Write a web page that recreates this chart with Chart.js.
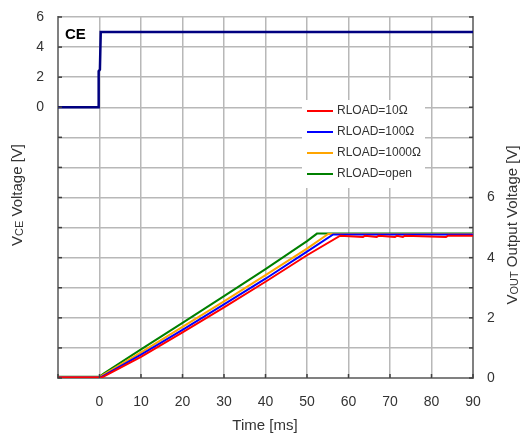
<!DOCTYPE html>
<html>
<head>
<meta charset="utf-8">
<script src="https://cdn.jsdelivr.net/npm/chart.js@4.4.0/dist/chart.umd.min.js"></script>
<style>
  html, body { margin: 0; padding: 0; background: #fff; }
</style>
</head>
<body>
<canvas id="myChart" width="523" height="438"></canvas>
<script>
// Vce signal (left axis)
const vceTime = [-10, -0.2, -0.2, 0.1, 0.3, 90];
const vceVolt = [0, 0, 2.4, 2.5, 5.0, 5.0];

// Vout signals (right axis), one array pair per load
const r10Time   = [-10, 0.6, 10, 20, 30, 40, 50, 58, 63.5, 64, 66.8, 67.3, 71.2, 71.7, 73.1, 73.6, 83.5, 84, 90];
const r10Volt   = [0.02, 0.02, 0.7, 1.52, 2.35, 3.2, 4.08, 4.73, 4.69, 4.73, 4.69, 4.73, 4.69, 4.73, 4.69, 4.73, 4.69, 4.73, 4.73];
const r100Time  = [-10, 0.3, 10, 20, 30, 40, 50, 56.3, 90];
const r100Volt  = [0.02, 0.02, 0.78, 1.6, 2.45, 3.3, 4.2, 4.77, 4.77];
const r1000Time = [-10, 0, 10, 20, 30, 40, 50, 55.1, 90];
const r1000Volt = [0.03, 0.03, 0.85, 1.7, 2.55, 3.42, 4.3, 4.79, 4.79];
const openTime  = [-10, 0, 1, 10, 20, 30, 40, 50, 52.4, 90];
const openVolt  = [0.04, 0.04, 0.15, 0.95, 1.83, 2.72, 3.62, 4.55, 4.8, 4.8];

const loadLabels = ['RLOAD=10Ω', 'RLOAD=100Ω', 'RLOAD=1000Ω', 'RLOAD=open'];
const loadColors = ['#ff0000', '#0000ff', '#ffa500', '#008000'];

// tick label ranges
const xTicks = [0, 10, 20, 30, 40, 50, 60, 70, 80, 90];
const leftTicks = [0, 2, 4, 6];
const rightTicks = [0, 2, 4, 6];

const FONT = "'Liberation Sans', Arial, sans-serif";
const TXT = '#333333';

const pts = (xs, ys) => xs.map((x, i) => ({ x: x, y: ys[i] }));

// draws the floating legend, the CE tag, the axis titles and the inward ticks
const extras = {
    id: 'extras',
    beforeDraw(chart) {
        const c = chart.ctx;
        c.save();
        c.fillStyle = '#fff';
        c.fillRect(0, 0, chart.width, chart.height);
        c.restore();
    },
    afterDraw(chart) {
        const c = chart.ctx;
        const a = chart.chartArea;
        c.save();

        // inward ticks
        c.strokeStyle = '#404040';
        c.lineWidth = 1.5;
        const xs = chart.scales.x, yl = chart.scales.y, yr = chart.scales.y2;
        xs.ticks.forEach(t => {
            const px = xs.getPixelForValue(t.value);
            c.beginPath(); c.moveTo(px, a.bottom); c.lineTo(px, a.bottom - 4); c.stroke();
        });
        yl.ticks.forEach(t => {
            const py = yl.getPixelForValue(t.value);
            c.beginPath(); c.moveTo(a.left, py); c.lineTo(a.left + 4, py); c.stroke();
        });
        yr.ticks.forEach(t => {
            const py = yr.getPixelForValue(t.value);
            c.beginPath(); c.moveTo(a.right, py); c.lineTo(a.right - 4, py); c.stroke();
        });

        // legend box
        const lx = a.left + 244, ly = a.top + 83;
        c.fillStyle = '#fff';
        c.fillRect(lx, ly, 123, 88);
        c.font = '12px ' + FONT;
        c.textBaseline = 'middle';
        c.textAlign = 'left';
        chart.data.datasets.forEach(ds => {
            if (ds.legendRow === undefined) return;
            const ry = ly + 11 + ds.legendRow * 21;
            c.strokeStyle = ds.borderColor;
            c.lineWidth = 2;
            c.beginPath(); c.moveTo(lx + 5, ry); c.lineTo(lx + 31, ry); c.stroke();
            c.fillStyle = TXT;
            c.fillText(ds.label, lx + 35, ry);
        });

        // CE tag
        c.font = 'bold 15px ' + FONT;
        c.fillStyle = '#000';
        c.textBaseline = 'alphabetic';
        c.fillText('CE', a.left + 7, a.top + 22);

        // axis titles
        const big = '15px ' + FONT, small = '11px ' + FONT;
        const drawTitle = (parts, x, y, rot) => {
            c.save();
            c.translate(x, y);
            c.rotate(rot);
            let w = 0;
            parts.forEach(p => { c.font = p[1]; w += c.measureText(p[0]).width; });
            let cx = -w / 2;
            c.fillStyle = TXT;
            c.textAlign = 'left';
            c.textBaseline = 'middle';
            parts.forEach(p => {
                c.font = p[1];
                c.fillText(p[0], cx, p[2] || 0);
                cx += c.measureText(p[0]).width;
            });
            c.restore();
        };
        drawTitle([['V', big], ['CE', small, 1.5], [' Voltage [V]', big]], 18, 195, -Math.PI / 2);
        drawTitle([['V', big], ['OUT', small, 1.5], [' Output Voltage [V]', big]], 513, 225, -Math.PI / 2);
        drawTitle([['Time [ms]', big]], 265, 426, 0);

        c.restore();
    }
};

const ctx = document.getElementById('myChart').getContext('2d');
const chart = new Chart(ctx, {
    type: 'line',
    data: {
        datasets: [
            { label: 'VCE', data: pts(vceTime, vceVolt), borderColor: '#000080', borderWidth: 2.5, yAxisID: 'y' },
            { label: loadLabels[0], data: pts(r10Time, r10Volt), borderColor: loadColors[0], borderWidth: 2, yAxisID: 'y2', legendRow: 0 },
            { label: loadLabels[1], data: pts(r100Time, r100Volt), borderColor: loadColors[1], borderWidth: 2, yAxisID: 'y2', legendRow: 1 },
            { label: loadLabels[2], data: pts(r1000Time, r1000Volt), borderColor: loadColors[2], borderWidth: 2, yAxisID: 'y2', legendRow: 2 },
            { label: loadLabels[3], data: pts(openTime, openVolt), borderColor: loadColors[3], borderWidth: 2, yAxisID: 'y2', legendRow: 3 }
        ]
    },
    options: {
        responsive: false,
        animation: false,
        layout: { padding: { top: 17, left: 0, right: 0, bottom: 0 } },
        elements: { point: { radius: 0 }, line: { tension: 0 } },
        plugins: { legend: { display: false }, tooltip: { enabled: false } },
        scales: {
            x: {
                type: 'linear', min: -10, max: 90,
                afterFit: s => { s.height = 60; },
                ticks: {
                    stepSize: 10, padding: 16, color: TXT, font: { family: FONT, size: 14 },
                    callback: v => xTicks.includes(v) ? v : ''
                },
                grid: { color: '#b8b8b8', lineWidth: 1.5, drawTicks: false },
                border: { color: '#808080', width: 2 }
            },
            y: {
                position: 'left', min: -18, max: 6,
                afterFit: s => { s.width = 58; },
                ticks: {
                    stepSize: 2, padding: 14, color: TXT, font: { family: FONT, size: 14, lineHeight: 0.2 },
                    callback: v => leftTicks.includes(v) ? v : ''
                },
                grid: { color: '#b8b8b8', lineWidth: 1.5, drawTicks: false },
                border: { color: '#808080', width: 2 }
            },
            y2: {
                position: 'right', min: 0, max: 12,
                afterFit: s => { s.width = 50; },
                ticks: {
                    stepSize: 1, padding: 14, color: TXT, font: { family: FONT, size: 14, lineHeight: 0.2 },
                    callback: v => rightTicks.includes(v) ? v : ''
                },
                grid: { drawOnChartArea: false, drawTicks: false },
                border: { color: '#808080', width: 2 }
            }
        }
    },
    plugins: [extras]
});
</script>
</body>
</html>
